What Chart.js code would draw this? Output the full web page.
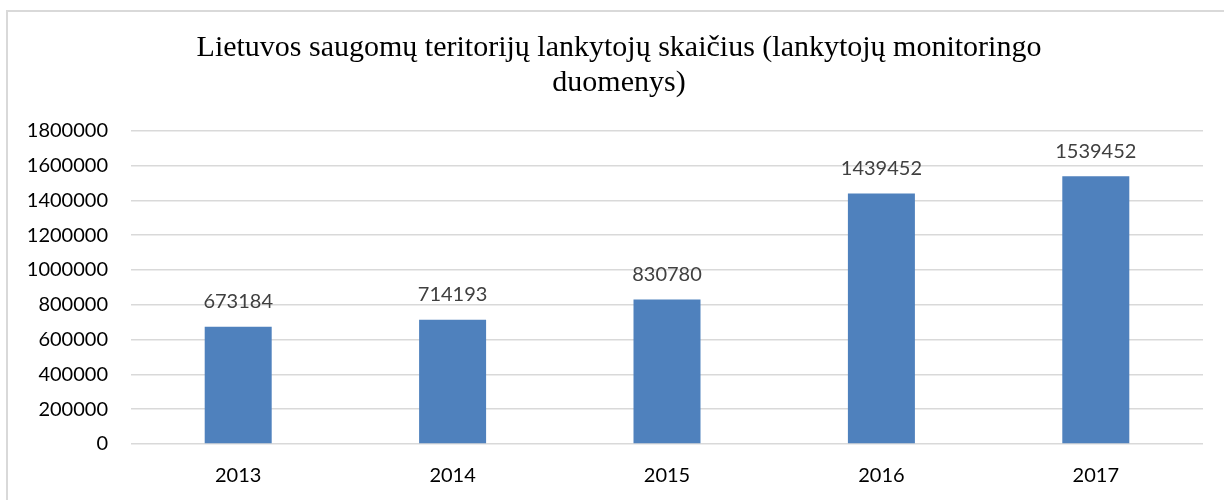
<!DOCTYPE html>
<html lang="lt">
<head>
<meta charset="utf-8">
<title>Lietuvos saugomų teritorijų lankytojų skaičius</title>
<script src="https://cdn.jsdelivr.net/npm/chart.js@4/dist/chart.umd.min.js"></script>
<style>
    html, body { margin: 0; padding: 0; background: #fff; overflow: hidden; }
    .frame {
        position: absolute;
        left: 6px;
        top: 10px;
        width: 1300px;
        height: 600px;
        border: 2px solid #d9d9d9;
        box-sizing: border-box;
    }
    .chart-box {
        position: absolute;
        left: 0;
        top: 0;
        width: 1224px;
        height: 500px;
    }
</style>
</head>
<body>
<div class="frame"></div>
<div class="chart-box"><canvas id="visitorsChart" width="1224" height="500"></canvas></div>
<script>
// Chart data
const years = ['2013', '2014', '2015', '2016', '2017'];
const visitors = [673184, 714193, 830780, 1439452, 1539452];
const titleLines = ['Lietuvos saugomų teritorijų lankytojų skaičius (lankytojų monitoringo', 'duomenys)'];

// Value labels above the bars
const valueLabels = {
    id: 'valueLabels',
    afterDatasetsDraw(chart) {
        const { ctx } = chart;
        const meta = chart.getDatasetMeta(0);
        ctx.save();
        ctx.font = '20px Lato';
        ctx.fillStyle = '#404040';
        ctx.textAlign = 'center';
        ctx.textBaseline = 'middle';
        meta.data.forEach((bar, i) => {
            ctx.fillText(String(visitors[i]), bar.x, bar.y - 25);
        });
        ctx.restore();
    }
};

const ctx = document.getElementById('visitorsChart').getContext('2d');

new Chart(ctx, {
    type: 'bar',
    data: {
        labels: years,
        datasets: [{
            data: visitors,
            backgroundColor: '#4f81bd',
            borderWidth: 0,
            barPercentage: 0.3125,
            categoryPercentage: 1
        }]
    },
    options: {
        responsive: false,
        animation: false,
        layout: { padding: { left: 14, right: 0, top: 0, bottom: 0 } },
        plugins: {
            legend: { display: false },
            tooltip: { enabled: false },
            title: {
                display: true,
                text: titleLines,
                color: '#000',
                font: { family: 'Liberation Serif', size: 30, weight: 'normal', lineHeight: 1.18 },
                padding: { top: 30, bottom: 30 }
            }
        },
        scales: {
            x: {
                grid: { display: false, drawTicks: false },
                border: { display: false },
                ticks: { color: '#000', font: { family: 'Lato', size: 20 }, padding: 20 },
                afterFit: (scale) => { scale.height = 56; }
            },
            y: {
                min: 0,
                max: 1800000,
                grid: { color: '#d9d9d9', lineWidth: 1.5, drawTicks: false },
                border: { display: false },
                ticks: {
                    stepSize: 200000,
                    color: '#000',
                    font: { family: 'Lato', size: 20 },
                    padding: 23,
                    callback: (value) => value
                },
                afterFit: (scale) => { scale.width = 117; }
            },
            // empty right margin so the title stays centred on the frame
            yRight: {
                position: 'right',
                grid: { display: false, drawTicks: false },
                border: { display: false },
                ticks: { display: false },
                afterFit: (scale) => { scale.width = 21; }
            }
        }
    },
    plugins: [valueLabels]
});
</script>
</body>
</html>
